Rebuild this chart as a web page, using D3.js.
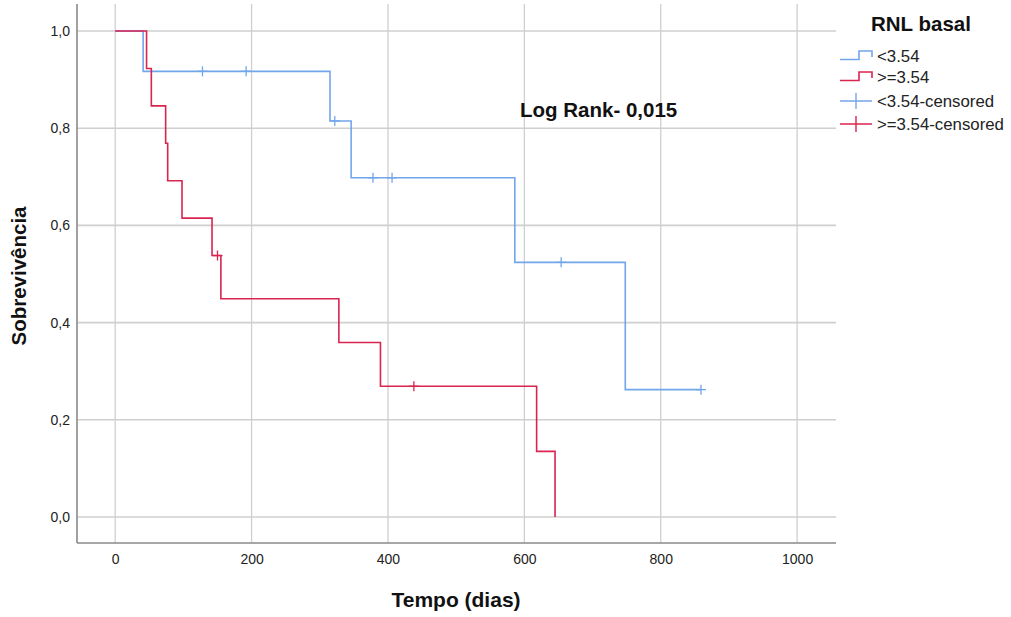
<!DOCTYPE html>
<html><head><meta charset="utf-8">
<script src="https://cdn.jsdelivr.net/npm/d3@7"></script>
<style>body{margin:0;background:#fff}svg{display:block}</style>
</head><body>
<svg id="c" width="1011" height="617"></svg>
<script>
// Data
const xTicks = [0, 200, 400, 600, 800, 1000];
const yTicks = [0, 0.2, 0.4, 0.6, 0.8, 1.0];
const lowTimes = [0, 41, 315, 346, 586, 748, 859];
const lowSurv  = [1.0, 0.917, 0.815, 0.698, 0.524, 0.262, 0.262];
const lowCensTimes = [128, 192, 322, 378, 406, 654, 859];
const lowCensSurv  = [0.917, 0.917, 0.815, 0.698, 0.698, 0.524, 0.262];
const highTimes = [0, 46, 53, 74, 77, 98, 142, 155, 328, 389, 618, 645];
const highSurv  = [1.0, 0.923, 0.846, 0.769, 0.692, 0.615, 0.538, 0.449, 0.359, 0.269, 0.135, 0.0];
const highCensTimes = [150, 438];
const highCensSurv  = [0.538, 0.269];
const groups = ["<3.54", ">=3.54", "<3.54-censored", ">=3.54-censored"];

const blue = "#72a6ea", red = "#da2450";
const FONT = "Liberation Sans, Arial, sans-serif";
const svg = d3.select("#c");
const x = d3.scaleLinear().domain([-56, 1057]).range([77, 836]);
const y = d3.scaleLinear().domain([-0.0535, 1.0556]).range([543, 4]);

// grid
svg.append("g").selectAll("line").data(xTicks).join("line")
  .attr("x1", d => x(d)).attr("x2", d => x(d)).attr("y1", 4).attr("y2", 543)
  .attr("stroke", "#cfcfcf").attr("stroke-width", 1.3);
svg.append("g").selectAll("line").data(yTicks).join("line")
  .attr("x1", 77).attr("x2", 836).attr("y1", d => y(d)).attr("y2", d => y(d))
  .attr("stroke", "#cfcfcf").attr("stroke-width", 1.6);

// axes
const xAxis = d3.axisBottom(x).tickValues(xTicks).tickSize(0).tickPadding(11).tickFormat(d3.format("d"));
const gx = svg.append("g").attr("transform", "translate(0,543)").call(xAxis);
const yAxis = d3.axisLeft(y).tickValues(yTicks).tickSize(0).tickPadding(7).tickFormat(d => d3.format(".1f")(d).replace(".", ","));
const gy = svg.append("g").attr("transform", "translate(77,0)").call(yAxis);
[gx, gy].forEach(g => {
  g.select(".domain").attr("stroke", "#8a8a8a").attr("stroke-width", 1.6);
  g.selectAll("text").attr("font-family", FONT).attr("font-size", 14).attr("fill", "#222");
});
gx.select(".domain").attr("d", "M77,0H836");
gy.select(".domain").attr("d", "M0,4V543");

// step curves
const line = d3.line().x(d => x(d[0])).y(d => y(d[1])).curve(d3.curveStepAfter);
function drawCurve(times, surv, color) {
  const pts = times.map((t, i) => [t, surv[i]]);
  svg.append("path").datum(pts).attr("d", line).attr("fill", "none")
    .attr("stroke", color).attr("stroke-width", 1.6);
}
function drawCens(times, surv, color) {
  const g = svg.append("g").attr("stroke", color).attr("stroke-width", 1.3);
  times.forEach((t, i) => {
    g.append("line").attr("x1", x(t)).attr("x2", x(t)).attr("y1", y(surv[i]) - 5).attr("y2", y(surv[i]) + 5);
    g.append("line").attr("x1", x(t) - 5).attr("x2", x(t) + 5).attr("y1", y(surv[i])).attr("y2", y(surv[i]));
  });
}
drawCurve(lowTimes, lowSurv, blue);
drawCurve(highTimes, highSurv, red);
drawCens(lowCensTimes, lowCensSurv, blue);
drawCens(highCensTimes, highCensSurv, red);

// annotation
svg.append("text").attr("x", 520).attr("y", 117).text("Log Rank- 0,015")
  .attr("font-family", FONT).attr("font-weight", "bold").attr("font-size", 20.5).attr("fill", "#111");

// axis titles
svg.append("text").attr("x", 456).attr("y", 607).attr("text-anchor", "middle").text("Tempo (dias)")
  .attr("font-family", FONT).attr("font-weight", "bold").attr("font-size", 21).attr("fill", "#111");
svg.append("text").attr("transform", "translate(26,276) rotate(-90)").attr("text-anchor", "middle").text("Sobrevivência")
  .attr("font-family", FONT).attr("font-weight", "bold").attr("font-size", 20.5).attr("fill", "#111");

// legend
svg.append("text").attr("x", 871).attr("y", 31).text("RNL basal")
  .attr("font-family", FONT).attr("font-weight", "bold").attr("font-size", 20.5).attr("fill", "#111");
const legY = [56, 77, 101, 124];
const legColors = [blue, red, blue, red];
groups.forEach((g, i) => {
  const cy = legY[i], c = legColors[i];
  if (i < 2) {
    svg.append("path").attr("d", `M840,${cy + 3.5}H859V${cy - 5}H872V${cy + 1}`)
      .attr("fill", "none").attr("stroke", c).attr("stroke-width", 1.6);
  } else {
    svg.append("path").attr("d", `M840,${cy}H872M856,${cy - 8}V${cy + 8}`)
      .attr("fill", "none").attr("stroke", c).attr("stroke-width", 1.4);
  }
  svg.append("text").attr("x", 877).attr("y", cy + 6).text(g)
    .attr("font-family", FONT).attr("font-size", 16.8).attr("fill", "#222");
});
</script>
</body></html>
